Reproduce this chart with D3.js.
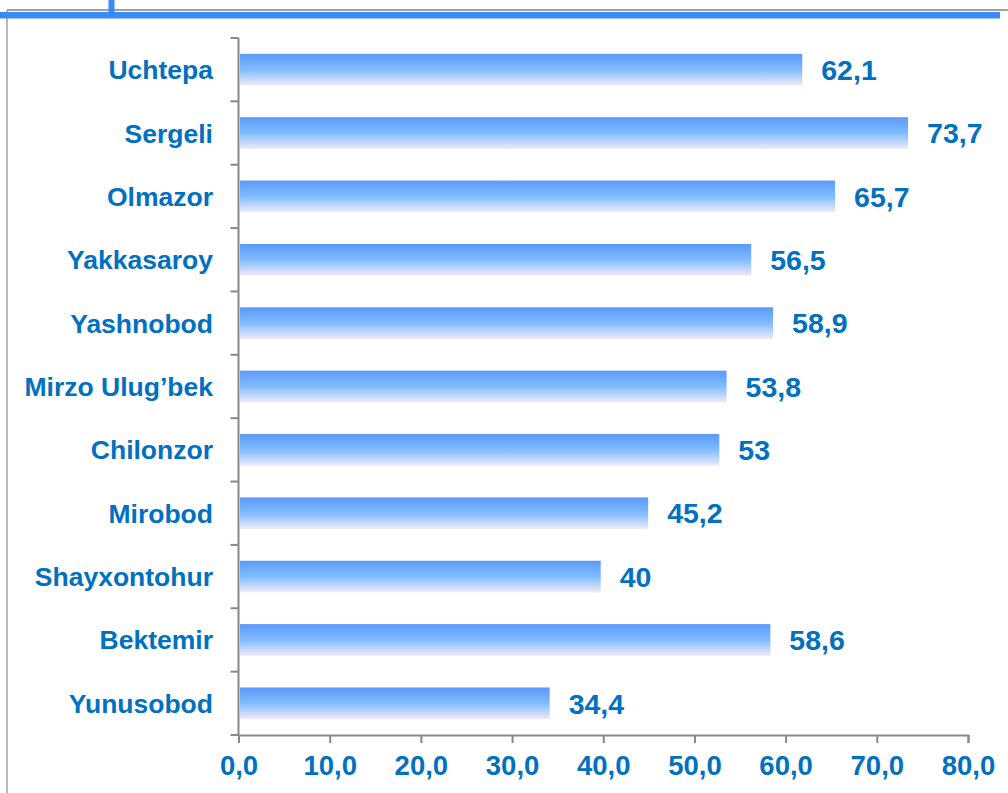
<!DOCTYPE html>
<html>
<head>
<meta charset="utf-8">
<script src="https://cdn.jsdelivr.net/npm/d3@7"></script>
<style>
  body { margin: 0; background: #fff; }
  svg { display: block; }
  text { font-family: "Liberation Sans", Arial, sans-serif; font-weight: bold; fill: #0070c0; }
</style>
</head>
<body>
<svg id="chart" width="1008" height="793"></svg>
<script>
var districts = ["Uchtepa", "Sergeli", "Olmazor", "Yakkasaroy", "Yashnobod", "Mirzo Ulug\u2019bek",
    "Chilonzor", "Mirobod", "Shayxontohur", "Bektemir", "Yunusobod"];
var values = [62.1, 73.7, 65.7, 56.5, 58.9, 53.8, 53, 45.2, 40, 58.6, 34.4];
var valueLabels = ["62,1", "73,7", "65,7", "56,5", "58,9", "53,8", "53", "45,2", "40", "58,6", "34,4"];
var xTicks = [0, 10, 20, 30, 40, 50, 60, 70, 80];

var margin = {top: 38, left: 238.5, right: 40, bottom: 58},
    width = 1008,
    height = 793;

var svg = d3.select("#chart");

// gradient for the bars
var defs = svg.append("defs");
var grad = defs.append("linearGradient")
    .attr("id", "barGrad")
    .attr("x1", 0).attr("y1", 0).attr("x2", 0).attr("y2", 1);
grad.append("stop").attr("offset", "0%").attr("stop-color", "#5c99fa");
grad.append("stop").attr("offset", "50%").attr("stop-color", "#80bcfd");
grad.append("stop").attr("offset", "100%").attr("stop-color", "#f0eaf8");

// frame decoration at the top / left
svg.append("line").attr("x1", 7).attr("x2", 1008).attr("y1", 10).attr("y2", 10)
    .attr("stroke", "#a0a0a0").attr("stroke-width", 2);
svg.append("line").attr("x1", 7).attr("x2", 7).attr("y1", 10).attr("y2", 793)
    .attr("stroke", "#a0a0a0").attr("stroke-width", 1.5);
svg.append("rect").attr("x", 0).attr("y", 12).attr("width", 1000).attr("height", 6.5)
    .attr("fill", "#3a8afa");
svg.append("rect").attr("x", 108.5).attr("y", 0).attr("width", 6).attr("height", 17)
    .attr("fill", "#3a8afa");

var x = d3.scaleLinear()
    .domain([0, 80])
    .range([margin.left, 968]);

var y = d3.scaleBand()
    .domain(districts)
    .range([margin.top, 735])
    .paddingInner(0.5)
    .paddingOuter(0.25);

// bars
svg.append("g")
    .selectAll("rect")
    .data(values)
    .enter()
    .append("rect")
    .attr("x", x(0) + 1.5)
    .attr("y", function(d, i){ return y(districts[i]); })
    .attr("width", function(d){ return x(d) - x(0) - 4; })
    .attr("height", y.bandwidth())
    .attr("fill", "url(#barGrad)");

// value labels
svg.append("g")
    .selectAll("text")
    .data(values)
    .enter()
    .append("text")
    .attr("x", function(d){ return x(d) + 16.5; })
    .attr("y", function(d, i){ return y(districts[i]) + y.bandwidth() / 2; })
    .attr("dy", "0.36em")
    .style("font-size", "28.5px")
    .text(function(d, i){ return valueLabels[i]; });

// y axis: line + ticks at band boundaries
var yAxis = svg.append("g");
yAxis.append("line")
    .attr("x1", margin.left).attr("x2", margin.left)
    .attr("y1", margin.top).attr("y2", 735)
    .attr("stroke", "#888").attr("stroke-width", 2);
var step = y.step();
var bounds = d3.range(districts.length + 1).map(function(i){ return y(districts[0]) - step * 0.25 + i * step; });
yAxis.selectAll("line.tick")
    .data(bounds)
    .enter()
    .append("line")
    .attr("class", "tick")
    .attr("x1", margin.left - 8).attr("x2", margin.left)
    .attr("y1", function(d){ return d; }).attr("y2", function(d){ return d; })
    .attr("stroke", "#888").attr("stroke-width", 2);
yAxis.selectAll("text")
    .data(districts)
    .enter()
    .append("text")
    .attr("x", 213)
    .attr("y", function(d){ return y(d) + y.bandwidth() / 2; })
    .attr("dy", "0.36em")
    .attr("text-anchor", "end")
    .style("font-size", "26.5px")
    .text(function(d){ return d; });

// x axis
var xAxis = svg.append("g")
    .attr("transform", "translate(0,735)")
    .call(d3.axisBottom(x)
        .tickValues(xTicks)
        .tickSize(8)
        .tickSizeOuter(8)
        .tickFormat(function(d){ return d3.format(".1f")(d).replace(".", ","); }));
xAxis.select(".domain").attr("stroke", "#888").attr("stroke-width", 2);
xAxis.selectAll(".tick line").attr("stroke", "#888").attr("stroke-width", 2);
xAxis.selectAll(".tick text")
    .attr("y", 20)
    .attr("fill", "#0070c0")
    .style("font-size", "27.5px")
    .style("font-family", "'Liberation Sans', Arial, sans-serif")
    .style("font-weight", "bold");
</script>
</body>
</html>
